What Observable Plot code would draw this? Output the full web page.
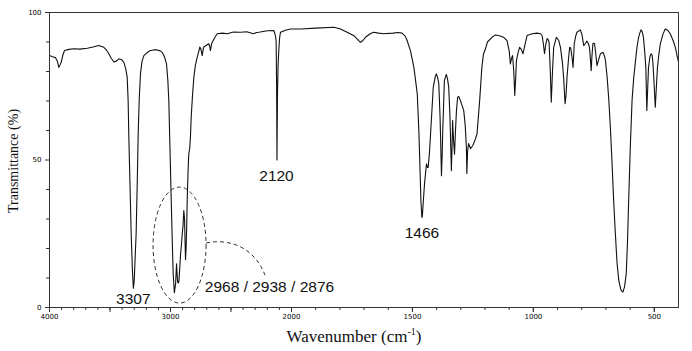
<!DOCTYPE html>
<html><head><meta charset="utf-8">
<script src="https://cdn.jsdelivr.net/npm/d3@7"></script>
<script src="https://cdn.jsdelivr.net/npm/@observablehq/plot@0.6"></script>
<style>html,body{margin:0;padding:0;background:#fff} svg{display:block}</style>
</head><body><div id="chart"></div>
<script>
// IR spectrum: wavenumber (cm-1) and transmittance (%)
const wavenumber = [4000,3975,3950,3935,3923,3910,3903,3890,3876,3840,3799,3750,3688,3640,3593,3551,3530,3510,3490,3468,3445,3427,3405,3386,3370,3358,3350,3345,3335,3325,3315,3307,3300,3292,3284,3275,3267,3258,3248,3235,3220,3190,3165,3130,3110,3085,3069,3050,3033,3022,3014,3005,2994,2985,2978,2968,2958,2950,2945,2942,2938,2931,2924,2917,2910,2903,2896,2890,2884,2880,2876,2871,2866,2862,2855,2849,2841,2835,2829,2818,2807,2795,2779,2765,2758,2748,2738,2730,2725,2700,2684,2675,2670,2660,2647,2630,2614,2570,2531,2480,2421,2370,2314,2290,2270,2200,2146,2135,2127,2123,2120,2116,2111,2105,2098,2091,2050,2008,1963,1900,1825,1800,1770,1740,1715,1705,1694,1675,1660,1640,1619,1580,1560,1543,1530,1522,1508,1494,1480,1473,1468,1465,1461,1459,1455,1450,1442,1438,1435,1430,1425,1414,1405,1401,1396,1391,1386,1384,1380,1377,1375,1368,1360,1355,1350,1345,1343,1339,1336,1334,1332,1330,1326,1322,1318,1313,1308,1302,1295,1288,1282,1277,1275,1272,1268,1260,1250,1240,1233,1222,1213,1206,1198,1190,1171,1157,1144,1123,1109,1100,1095,1090,1086,1081,1077,1073,1070,1063,1057,1050,1043,1035,1026,1005,985,970,964,958,954,949,944,940,935,930,926,921,916,905,895,888,880,875,869,865,861,855,850,846,843,839,836,833,831,825,820,806,799,792,785,779,773,768,764,761,758,754,750,747,742,737,730,723,712,705,702,695,688,681,674,668,661,654,647,638,630,623,616,611,606,599,592,585,579,572,565,560,555,550,545,540,535,531,527,524,518,513,509,506,501,496,492,487,481,475,465,455,445,434,420,413,405,400];
const transmittance = [85.4,85.0,84.7,83.5,81.4,82.5,83.2,85.5,87.1,87.5,87.7,87.6,87.9,88.3,88.8,88.2,87.3,86.0,84.5,83.2,83.6,84.3,84.0,83.2,81.0,78.1,70,59,42,25,13,6.5,9,17,25,42,59,71,79.3,83.5,85.4,86.5,87.1,87.4,87.3,87.0,86.5,85,82.6,77,70.2,55,36.3,22,11.5,5.0,8,14.8,11,9.2,8.3,8.6,13,18,21,24.9,28,32.9,30,23,16.2,20,28,36.3,46,52,54,58,64.5,72,78,82,84.9,87,88.3,87.5,85.4,87.5,88.3,89,89.4,88.5,87.1,89.5,90.5,91.8,92.8,93,92.8,93.4,93.3,93.5,92.8,93.2,93.3,93.8,93.9,92.5,90.5,75,50,72,82,87.1,91.5,93.3,94,94.4,94.4,94.7,95,94.5,93.3,92,89.9,90.5,91.6,92.8,93.3,93,92.8,93,93.2,93,92,90.5,87,81.4,72.4,58.9,45,36.3,30.5,31,36,42,48.7,47.5,47.5,52,58.9,74.6,78.5,79.2,78,75.8,65,58.9,44.7,52,58.9,76.9,79,77.5,74.7,65,58.9,46.4,55,63.4,60,56.6,52,60,66.8,71.3,71.5,70.2,68.5,66.8,62,54.3,45.4,53,55.6,53.8,55,57,58.9,70.2,81.4,86,87.7,90,91.6,92.4,92.2,91.6,90.5,87,82.6,84.5,85.4,80,71.9,78,83.7,86.5,88.2,87.5,86,89,92.2,92.8,93,92.8,92.2,89,86,89,91.1,91,89.9,80,69.6,80,88.2,91.6,90.5,88.2,83,78,69.1,72,78,84,88.2,88,86.5,84,81.4,86,89.4,92,93.3,94.1,92.5,88.8,89.5,90.3,89.5,88.2,84,80.3,85,89.4,89.6,89.4,86,82,84,86,86.5,85,83.7,78,70.2,60,47.6,36,25,15,9.2,6,5.2,7,11.5,22,36.3,55,70.2,78,82.6,88,91.6,93,94.1,93.5,91.6,87,81.4,66.8,75,81.4,85,86,85.5,83.2,76,67.9,74,81.4,86,89.4,92.5,94.4,94,92.8,90,88.2,85,83.2];

const xTickLabels = [4000, 3000, 2000, 1500, 1000, 500];
const xMajorTicks = [4000, 3500, 3000, 2500, 2000, 1500, 1000, 500];
const xMinorTicks = d3.range(3900, 400, -100);
const yTickLabels = [0, 50, 100];
const yMinorTicks = [10, 20, 30, 40, 60, 70, 80, 90];

const peakLabels = ["3307", "2120", "1466", "2968 / 2938 / 2876"];
const peakLabelX = [3307, 2124, 1461, 2182];
const peakLabelY = [3.0, 44.4, 25.3, 6.8];

const xTitle = "Wavenumber (cm";
const xTitleSup = "-1";
const yTitle = "Transmittance (%)";

const data = wavenumber.map((w, i) => ({w, t: transmittance[i]}));
const labels = peakLabels.map((s, i) => ({s, x: peakLabelX[i], y: peakLabelY[i]}));

const chart = Plot.plot({
  width: 692, height: 351,
  marginTop: 12, marginBottom: 44, marginLeft: 49, marginRight: 14,
  x: {type: "linear", domain: [4000, 2000, 400], range: [49, 291, 678]},
  y: {domain: [0, 100]},
  style: {background: "#fff", color: "#000", fontFamily: "DejaVu Sans"},
  marks: [
    Plot.line(data, {x: "w", y: "t", stroke: "#111", strokeWidth: 1.1}),
    Plot.frame({stroke: "#333", strokeWidth: 1}),
    Plot.axisX({ticks: xMinorTicks, tickSize: 3, tickFormat: () => "", label: null, stroke: "#333"}),
    Plot.axisX({ticks: xMajorTicks, tickSize: 5, tickFormat: () => "", label: null, stroke: "#333"}),
    Plot.axisX({ticks: xTickLabels, tickSize: 5, tickPadding: 2, fontSize: 7, label: null, stroke: "#333", tickFormat: d => String(d)}),
    Plot.axisY({ticks: yMinorTicks, tickSize: 3, tickFormat: () => "", label: null, stroke: "#333"}),
    Plot.axisY({ticks: yTickLabels, tickSize: 4, tickPadding: 4, fontSize: 7, label: null, stroke: "#333", tickFormat: d => String(d)}),
    Plot.text(labels, {x: "x", y: "y", text: "s", fontSize: 15.5, fontFamily: "Liberation Sans", fill: "#111"})
  ]
});
document.getElementById("chart").appendChild(chart);

const sx = chart.scale("x"), sy = chart.scale("y");
const svg = d3.select(chart);

// dashed ellipse around the C-H stretching bands and its leader arc
const ellipseCenter = [2921, 21];
svg.append("ellipse")
  .attr("cx", sx.apply(ellipseCenter[0])).attr("cy", sy.apply(ellipseCenter[1]))
  .attr("rx", 26.5).attr("ry", 58)
  .attr("fill", "none").attr("stroke", "#333").attr("stroke-width", 1).attr("stroke-dasharray", "4,3");
const arcW = [2702, 2500, 2300, 2215];
const arcT = [21.7, 23.4, 20.0, 10.8];
const p = arcW.map((w, i) => [sx.apply(w), sy.apply(arcT[i])]);
svg.append("path")
  .attr("d", `M${p[0][0]},${p[0][1]} C${p[1][0]},${p[1][1]} ${p[2][0]},${p[2][1]} ${p[3][0]},${p[3][1]}`)
  .attr("fill", "none").attr("stroke", "#333").attr("stroke-width", 1).attr("stroke-dasharray", "4,3");

// axis titles
svg.append("text")
  .attr("transform", "translate(15,161) rotate(-90)")
  .attr("text-anchor", "middle").attr("dominant-baseline", "middle")
  .attr("font-family", "Liberation Serif").attr("font-size", 14).attr("fill", "#111")
  .text(yTitle);
const xt = svg.append("text")
  .attr("x", 354).attr("y", 342)
  .attr("text-anchor", "middle")
  .attr("font-family", "Liberation Serif").attr("font-size", 17).attr("fill", "#111");
xt.append("tspan").text(xTitle);
xt.append("tspan").attr("font-size", 10).attr("dy", -7).text(xTitleSup);
xt.append("tspan").attr("dy", 7).text(")");
</script>
</body></html>
